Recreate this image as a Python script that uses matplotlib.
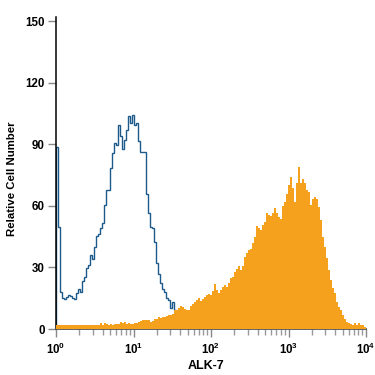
import numpy as np
import matplotlib
matplotlib.use("Agg")
import matplotlib.pyplot as plt
from matplotlib.ticker import LogLocator, NullFormatter, FixedLocator

# ---- data ----
n_bins = 155
decades = (0, 4)

isotype_counts = [
    88.8, 49.6, 18.0, 15.0, 14.5, 15.7, 16.4, 16.0, 15.3, 14.5,
    17.7, 19.5, 18.0, 23.4, 25.5, 29.5, 31.0, 35.9, 34.3, 40.0,
    45.5, 46.5, 49.0, 51.5, 60.2, 67.7, 67.7, 78.2, 85.9, 90.7,
    89.4, 99.4, 93.8, 87.8, 92.0, 96.9, 104.0, 100.5, 104.5, 99.4,
    100.5, 91.7, 86.4, 86.4, 86.4, 66.0, 56.3, 49.8, 49.0, 42.5,
    32.0, 26.8, 22.2, 19.3, 18.0, 14.9, 14.1, 10.0, 13.3, 9.4,
    8.0, 6.0, 5.0, 4.0, 3.0, 2.0, 1.0,
]

alk7_counts = [
    1.8, 1.8, 2.0, 1.8, 1.9, 2.0, 1.8, 1.8, 2.0, 1.9,
    1.8, 2.0, 1.8, 1.9, 2.0, 1.8, 2.0, 1.9, 1.8, 2.0,
    1.9, 2.0, 2.8, 2.0, 2.8, 2.2, 2.0, 2.2, 2.0, 2.4,
    2.2, 2.2, 3.4, 3.0, 3.6, 2.6, 2.8, 2.6, 2.4, 3.0,
    2.8, 3.2, 4.0, 4.2, 4.4, 4.6, 4.2, 3.5, 3.8, 5.0,
    5.0, 5.7, 5.6, 6.0, 6.0, 6.2, 6.7, 6.7, 7.5, 9.3,
    9.5, 10.0, 11.2, 10.5, 9.7, 9.3, 9.5, 11.2, 12.0, 13.3,
    14.0, 14.9, 13.8, 14.5, 15.4, 16.5, 17.0, 16.6, 18.5, 21.7,
    19.0, 17.7, 19.0, 20.6, 21.6, 20.3, 22.6, 24.7, 25.5, 27.9,
    29.1, 30.7, 28.8, 30.7, 35.2, 36.8, 38.5, 38.8, 41.7, 45.0,
    50.2, 49.0, 48.2, 50.6, 52.3, 56.7, 55.5, 55.0, 56.7, 58.8,
    56.7, 54.4, 53.5, 60.0, 62.0, 66.0, 70.1, 74.2, 68.5, 62.0,
    70.9, 79.0, 70.9, 73.3, 70.9, 67.7, 66.9, 60.4, 63.2, 64.5,
    63.2, 59.6, 53.1, 45.0, 40.1, 34.4, 28.7, 23.9, 19.8, 17.4,
    13.3, 10.9, 9.3, 6.8, 4.7, 3.6, 2.8, 2.5, 2.0, 2.8,
    2.0, 2.8, 2.0, 2.0, 1.2,
]

y_ticks = [0, 30, 60, 90, 120, 150]
x_ticks = [1, 10, 100, 1000, 10000]
x_ticklabels = [r"$\mathbf{10^{0}}$", r"$\mathbf{10^{1}}$", r"$\mathbf{10^{2}}$",
                r"$\mathbf{10^{3}}$", r"$\mathbf{10^{4}}$"]
x_label = "ALK-7"
y_label = "Relative Cell Number"

# ---- plot ----
plt.rcParams['font.family'] = ['Liberation Sans', 'DejaVu Sans']
plt.rcParams['mathtext.fontset'] = 'custom'
plt.rcParams['mathtext.rm'] = 'Liberation Sans'
plt.rcParams['mathtext.bf'] = 'Liberation Sans:bold'

fig = plt.figure(figsize=(3.75, 3.75), dpi=100)
ax = fig.add_axes([56 / 375, 1 - 329 / 375, 310 / 375, 312 / 375])

edges = np.logspace(decades[0], decades[1], n_bins + 1)

ax.stairs(isotype_counts, edges[:len(isotype_counts) + 1], fill=False,
          color="#1d5a8c", linewidth=1.0, baseline=0, zorder=2)
ax.stairs(alk7_counts, edges[:len(alk7_counts) + 1], fill=True,
          color="#f6a11e", linewidth=0, baseline=0, zorder=3)

ax.set_xscale("log")
ax.set_xlim(1, 10000)
ax.set_ylim(0, 152)

ax.xaxis.set_major_locator(FixedLocator(x_ticks))
ax.set_xticklabels(x_ticklabels)
ax.xaxis.set_minor_locator(LogLocator(base=10, subs=np.arange(2, 10)))
ax.xaxis.set_minor_formatter(NullFormatter())
ax.set_yticks(y_ticks)
ax.set_yticklabels([str(v) for v in y_ticks])

for s in ["top", "right"]:
    ax.spines[s].set_visible(False)
ax.spines["left"].set_color("black")
ax.spines["left"].set_linewidth(1.1)
ax.spines["bottom"].set_color("#555555")
ax.spines["bottom"].set_linewidth(1.3)

ax.tick_params(axis="x", which="major", length=6, width=1, color="#888888",
               labelsize=8.3, pad=3)
ax.tick_params(axis="x", which="minor", length=4, width=1, color="#999999")
ax.tick_params(axis="y", which="major", length=6, width=1, color="#888888",
               labelsize=8.3, pad=2)
for lab in ax.get_yticklabels():
    lab.set_fontweight("bold")

ax.set_xlabel(x_label, fontsize=9, fontweight="bold")
ax.set_ylabel(y_label, fontsize=8.2, fontweight="bold")
ax.xaxis.set_label_coords((206 - 56) / 310, (329 - 360) / 312)
ax.yaxis.set_label_coords((17 - 56) / 310, (329 - 179) / 312)

fig.savefig("out.png", dpi=100)
